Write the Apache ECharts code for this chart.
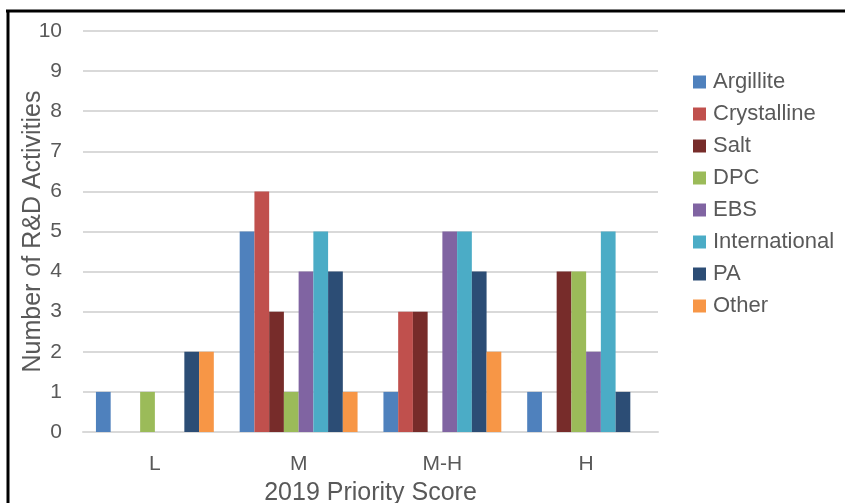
<!DOCTYPE html>
<html>
<head>
<meta charset="utf-8">
<script src="https://cdn.jsdelivr.net/npm/echarts@6/dist/echarts.min.js"></script>
<style>
html,body{margin:0;padding:0;background:#fff;}
#chart{width:845px;height:503px;}
</style>
</head>
<body>
<div id="chart"></div>
<script>
var categories = ['L', 'M', 'M-H', 'H'];
var seriesNames = ['Argillite', 'Crystalline', 'Salt', 'DPC', 'EBS', 'International', 'PA', 'Other'];
var argillite = [1, 5, 1, 1];
var crystalline = [0, 6, 3, 0];
var salt = [0, 3, 3, 4];
var dpc = [1, 1, 0, 4];
var ebs = [0, 4, 5, 2];
var international = [0, 5, 5, 5];
var pa = [2, 4, 4, 1];
var other = [2, 1, 2, 0];
var yTicks = [0, 1, 2, 3, 4, 5, 6, 7, 8, 9, 10];

var values = [argillite, crystalline, salt, dpc, ebs, international, pa, other];
var colors = ['#4F81BD', '#C0504D', '#772C2A', '#9BBB59', '#8064A2', '#4BACC6', '#2C4D75', '#F79646'];
var font = "'Liberation Sans', Arial, sans-serif";
var textColor = '#595959';

var chart = echarts.init(document.getElementById('chart'), null, {renderer: 'canvas'});
var series = seriesNames.map(function (name, i) {
  return {
    name: name,
    type: 'bar',
    data: values[i],
    barGap: '0%',
    barCategoryGap: '18%',
    itemStyle: {color: colors[i]},
    emphasis: {disabled: true}
  };
});

chart.setOption({
  animation: false,
  backgroundColor: '#ffffff',
  textStyle: {fontFamily: font},
  grid: {left: 83, right: 187, top: 31, bottom: 71, containLabel: false, outerBoundsMode: 'none'},
  legend: {
    orient: 'vertical',
    left: 693,
    top: 71,
    padding: 0,
    itemWidth: 13,
    itemHeight: 13,
    itemGap: 10,
    icon: 'rect',
    data: seriesNames,
    textStyle: {color: textColor, fontSize: 22, fontFamily: font, lineHeight: 22, padding: [0, 0, 0, 2]}
  },
  xAxis: {
    type: 'category',
    data: categories,
    name: '2019 Priority Score',
    nameLocation: 'middle',
    nameGap: 49,
    nameMoveOverlap: false,
    nameTextStyle: {color: textColor, fontSize: 25, fontFamily: font},
    axisLine: {show: true, lineStyle: {color: '#D9D9D9', width: 2}},
    axisTick: {show: false},
    axisLabel: {color: textColor, fontSize: 21, fontFamily: font, margin: 22}
  },
  yAxis: {
    type: 'value',
    min: yTicks[0],
    max: yTicks[yTicks.length - 1],
    interval: 1,
    name: 'Number of R&D Activities',
    nameLocation: 'middle',
    nameGap: 37,
    nameMoveOverlap: false,
    nameTextStyle: {color: textColor, fontSize: 25, fontFamily: font},
    axisLine: {show: false},
    axisTick: {show: false},
    axisLabel: {color: textColor, fontSize: 21, fontFamily: font, margin: 21},
    splitLine: {show: true, lineStyle: {color: '#D9D9D9', width: 2}}
  },
  graphic: [
    {type: 'line', shape: {x1: 6, y1: 11, x2: 845, y2: 11}, style: {stroke: '#000', lineWidth: 3}, z: 100},
    {type: 'line', shape: {x1: 8, y1: 10, x2: 8, y2: 503}, style: {stroke: '#000', lineWidth: 3}, z: 100}
  ],
  series: series
});
</script>
</body>
</html>
